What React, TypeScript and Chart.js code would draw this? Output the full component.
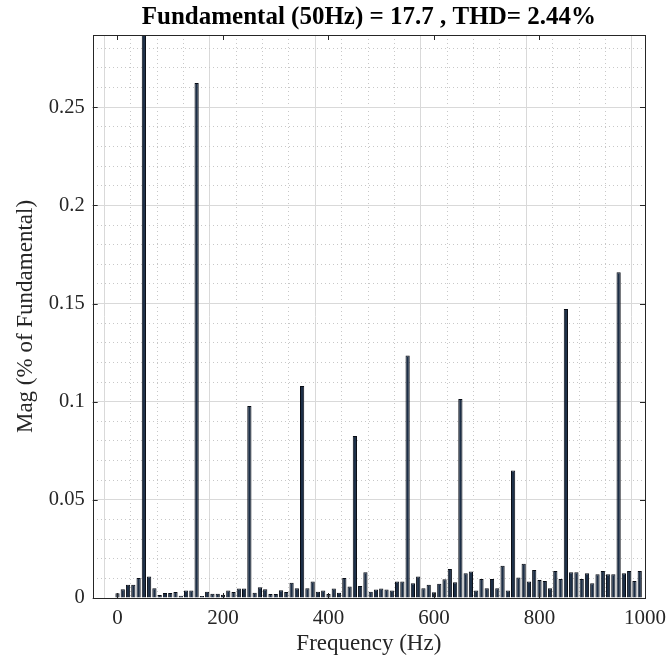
import React, { useEffect, useRef } from 'react';
import { Chart, registerables } from 'chart.js';

Chart.register(...registerables);

const titleText = 'Fundamental (50Hz) = 17.7 , THD= 2.44%';
const xAxisTitle = 'Frequency (Hz)';
const yAxisTitle = 'Mag (% of Fundamental)';

const freqHz = [
  0, 10, 20, 30, 40, 50, 60, 70, 80, 90,
  100, 110, 120, 130, 140, 150, 160, 170, 180, 190,
  200, 210, 220, 230, 240, 250, 260, 270, 280, 290,
  300, 310, 320, 330, 340, 350, 360, 370, 380, 390,
  400, 410, 420, 430, 440, 450, 460, 470, 480, 490,
  500, 510, 520, 530, 540, 550, 560, 570, 580, 590,
  600, 610, 620, 630, 640, 650, 660, 670, 680, 690,
  700, 710, 720, 730, 740, 750, 760, 770, 780, 790,
  800, 810, 820, 830, 840, 850, 860, 870, 880, 890,
  900, 910, 920, 930, 940, 950, 960, 970, 980, 990,
];

const magPct = [
  0.0024, 0.0044, 0.0068, 0.0068, 0.0102, 100, 0.011, 0.005, 0.0015, 0.0026,
  0.0025, 0.003, 0.0012, 0.0038, 0.0038, 0.2623, 0.001, 0.0032, 0.0022, 0.0022,
  0.0017, 0.0038, 0.003, 0.0048, 0.0048, 0.0978, 0.0027, 0.0055, 0.0044, 0.002,
  0.002, 0.004, 0.003, 0.0078, 0.005, 0.108, 0.005, 0.0084, 0.0032, 0.0038,
  0.002, 0.0048, 0.0027, 0.0102, 0.0058, 0.0825, 0.0061, 0.0131, 0.0032, 0.0043,
  0.0048, 0.0043, 0.0038, 0.0084, 0.0084, 0.1235, 0.0075, 0.011, 0.005, 0.0067,
  0.0029, 0.0072, 0.0096, 0.0148, 0.008, 0.1014, 0.0126, 0.0135, 0.0038, 0.0097,
  0.005, 0.0097, 0.005, 0.0164, 0.0038, 0.065, 0.0104, 0.0174, 0.0084, 0.0143,
  0.0092, 0.0087, 0.005, 0.0138, 0.0097, 0.1472, 0.0131, 0.0131, 0.0097, 0.0126,
  0.0075, 0.0121, 0.0138, 0.0121, 0.0121, 0.166, 0.0126, 0.0138, 0.0087, 0.0138,
];

const xTickLabels = ['0', '200', '400', '600', '800', '1000'];
const yTickLabels = ['0', '0.05', '0.1', '0.15', '0.2', '0.25'];

const FONT = "'Liberation Serif', 'Times New Roman', serif";

const fmt = (v: number) => String(parseFloat(v.toFixed(4)));
const isMajorX = (v: number) => xTickLabels.includes(fmt(v));
const isMajorY = (v: number) => yTickLabels.includes(fmt(v));

const boxPlugin = {
  id: 'matlabBox',
  afterDraw(chart: any) {
    const { ctx, chartArea } = chart;
    const { left, right, top, bottom } = chartArea;
    const xs = chart.scales.x;
    const ys = chart.scales.y;
    ctx.save();
    ctx.strokeStyle = '#262626';
    ctx.lineWidth = 1;
    ctx.beginPath();
    xs.ticks.forEach((t: any) => {
      if (!isMajorX(t.value)) return;
      const px = Math.round(xs.getPixelForValue(t.value)) + 0.5;
      ctx.moveTo(px, bottom);
      ctx.lineTo(px, bottom - 5);
      ctx.moveTo(px, top);
      ctx.lineTo(px, top + 5);
    });
    ys.ticks.forEach((t: any) => {
      if (!isMajorY(t.value)) return;
      const py = Math.round(ys.getPixelForValue(t.value)) + 0.5;
      ctx.moveTo(left, py);
      ctx.lineTo(left + 5, py);
      ctx.moveTo(right, py);
      ctx.lineTo(right - 5, py);
    });
    ctx.stroke();
    ctx.strokeRect(Math.round(left) + 0.5, Math.round(top) + 0.5, Math.round(right - left), Math.round(bottom - top));
    ctx.restore();
  },
};

export default function App() {
  const canvasRef = useRef<HTMLCanvasElement | null>(null);

  useEffect(() => {
    document.body.style.margin = '0';
    const canvas = canvasRef.current;
    if (!canvas) return;
    const chart = new Chart(canvas, {
      type: 'bar',
      data: {
        datasets: [
          {
            data: freqHz.map((f, i) => ({ x: f, y: magPct[i] })),
            backgroundColor: 'rgb(28,46,70)',
            borderColor: 'rgb(8,12,20)',
            borderWidth: 1,
            barPercentage: 0.8,
            categoryPercentage: 1,
          },
        ],
      },
      options: {
        animation: false,
        responsive: false,
        maintainAspectRatio: false,
        layout: { padding: { left: 0, right: 24, top: 0, bottom: 0 } },
        plugins: {
          legend: { display: false },
          tooltip: { enabled: false },
          title: {
            display: true,
            text: titleText,
            fullSize: false,
            color: '#000',
            font: { family: FONT, size: 25, weight: 'bold', lineHeight: 1.2 },
            padding: { top: 3, bottom: 2 },
          },
        },
        scales: {
          x: {
            type: 'linear',
            min: -47,
            max: 1000,
            offset: false,
            afterFit: (s: any) => {
              s.height = 60;
              s.paddingLeft = 0;
              s.paddingRight = 0;
            },
            ticks: {
              stepSize: 50,
              includeBounds: false,
              autoSkip: false,
              maxRotation: 0,
              minRotation: 0,
              padding: 8,
              color: '#262626',
              font: { family: FONT, size: 21 },
              callback: (v: any) => (isMajorX(Number(v)) ? fmt(Number(v)) : ''),
            },
            grid: {
              drawTicks: false,
              color: (c: any) => (c.tick && isMajorX(c.tick.value) ? '#d9d9d9' : '#c8c8c8'),
              lineWidth: 1,
            },
            border: {
              display: false,
              dash: (c: any) => (c.tick && !isMajorX(c.tick.value) ? [1, 3] : []),
            },
            title: {
              display: true,
              text: xAxisTitle,
              color: '#262626',
              font: { family: FONT, size: 23, lineHeight: 1.2 },
              padding: { top: 0, bottom: 0 },
            },
          },
          y: {
            type: 'linear',
            min: 0,
            max: 0.2868,
            afterFit: (s: any) => {
              s.width = 92.7;
              s.paddingTop = 0;
              s.paddingBottom = 0;
            },
            ticks: {
              stepSize: 0.01,
              includeBounds: false,
              autoSkip: false,
              padding: 8,
              color: '#262626',
              font: { family: FONT, size: 20.5 },
              callback: (v: any) => (isMajorY(Number(v)) ? fmt(Number(v)) : ''),
            },
            grid: {
              drawTicks: false,
              color: (c: any) => (c.tick && isMajorY(c.tick.value) ? '#d9d9d9' : '#c8c8c8'),
              lineWidth: 1,
            },
            border: {
              display: false,
              dash: (c: any) => (c.tick && !isMajorY(c.tick.value) ? [1, 3] : []),
            },
            title: {
              display: true,
              text: yAxisTitle,
              color: '#262626',
              font: { family: FONT, size: 23, lineHeight: 1.2 },
              padding: { top: 12, bottom: 0 },
            },
          },
        },
      },
      plugins: [boxPlugin],
    } as any);
    return () => chart.destroy();
  }, []);

  return (
    <div style={{ width: 669, height: 658, background: '#fff' }}>
      <canvas ref={canvasRef} width={669} height={658} style={{ display: 'block' }} />
    </div>
  );
}
